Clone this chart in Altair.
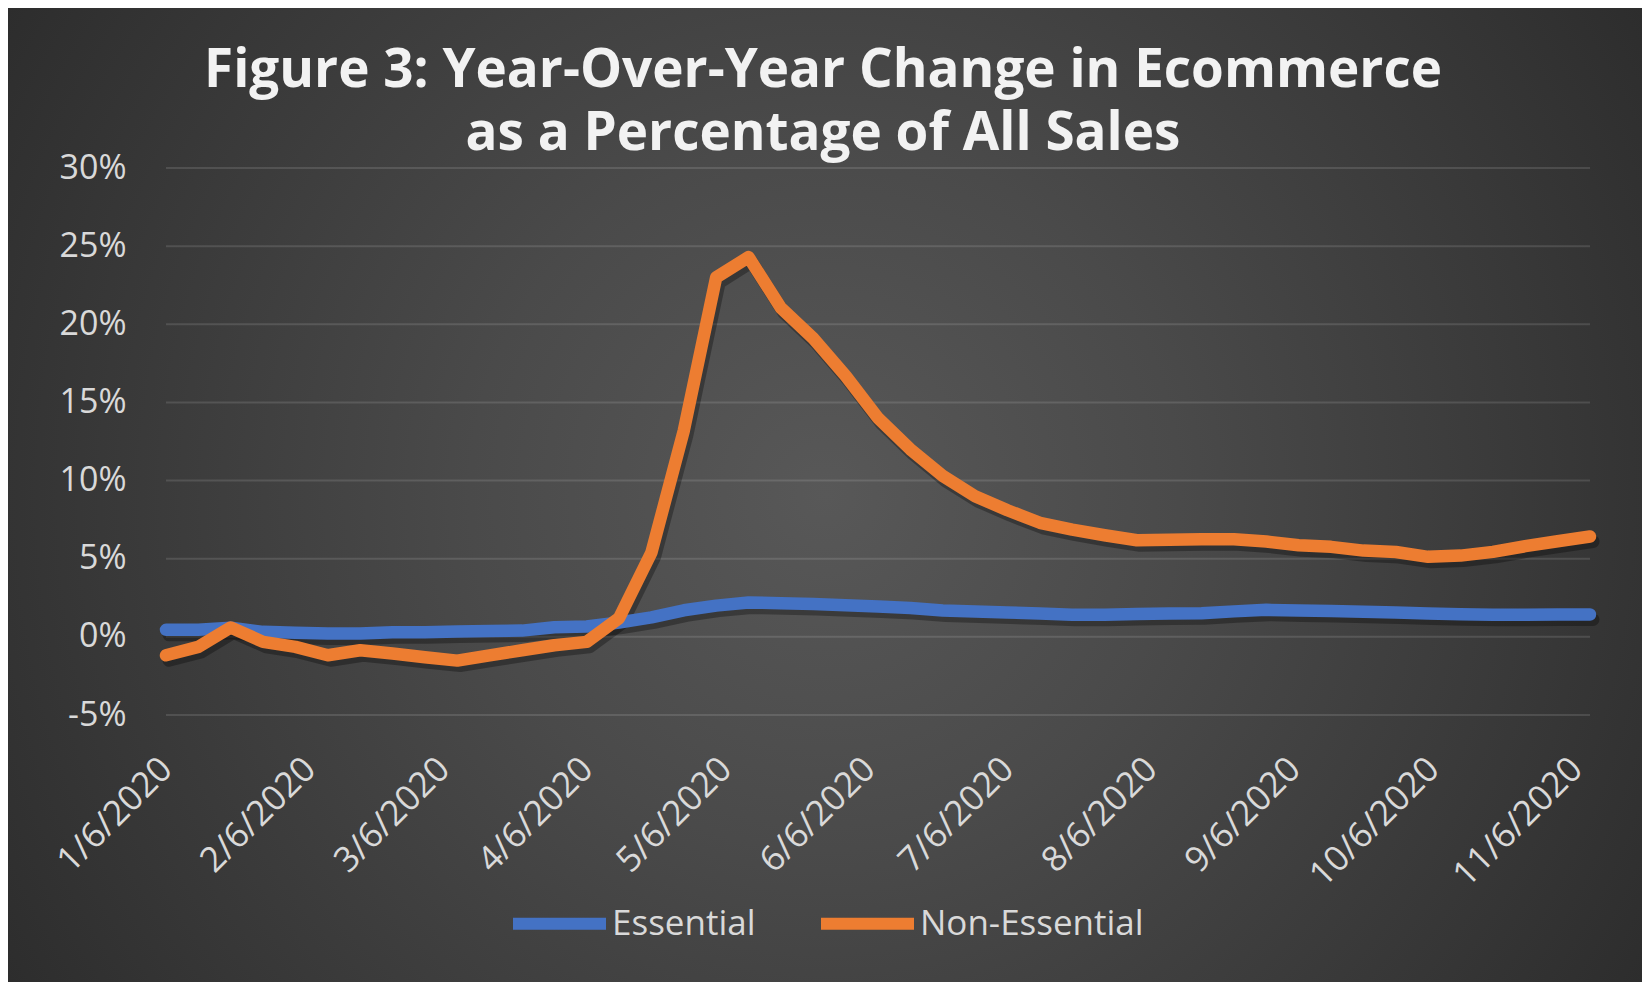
import altair as alt
import pandas as pd

# ---------------- data ----------------
dates = [
    "2020-01-06", "2020-01-13", "2020-01-20", "2020-01-27", "2020-02-03",
    "2020-02-10", "2020-02-17", "2020-02-24", "2020-03-02", "2020-03-09",
    "2020-03-16", "2020-03-23", "2020-03-30", "2020-04-06", "2020-04-13",
    "2020-04-20", "2020-04-27", "2020-05-04", "2020-05-11", "2020-05-18",
    "2020-05-25", "2020-06-01", "2020-06-08", "2020-06-15", "2020-06-22",
    "2020-06-29", "2020-07-06", "2020-07-13", "2020-07-20", "2020-07-27",
    "2020-08-03", "2020-08-10", "2020-08-17", "2020-08-24", "2020-08-31",
    "2020-09-07", "2020-09-14", "2020-09-21", "2020-09-28", "2020-10-05",
    "2020-10-12", "2020-10-19", "2020-10-26", "2020-11-02", "2020-11-09",
]

essential = [
    0.45, 0.45, 0.58, 0.32, 0.26, 0.21, 0.21, 0.30, 0.30, 0.34,
    0.38, 0.40, 0.62, 0.66, 0.92, 1.25, 1.70, 2.00, 2.20, 2.15,
    2.10, 2.03, 1.95, 1.85, 1.69, 1.62, 1.56, 1.50, 1.42, 1.42,
    1.46, 1.49, 1.51, 1.63, 1.73, 1.69, 1.65, 1.60, 1.56, 1.50,
    1.45, 1.41, 1.42, 1.43, 1.43,
]

non_essential = [
    -1.18, -0.64, 0.60, -0.32, -0.64, -1.18, -0.86, -1.07, -1.30, -1.52,
    -1.18, -0.86, -0.54, -0.32, 1.20, 5.40, 13.2, 23.0, 24.3, 21.05,
    19.1, 16.7, 14.0, 12.0, 10.3, 9.0, 8.1, 7.3, 6.86, 6.5,
    6.18, 6.22, 6.25, 6.25, 6.10, 5.86, 5.76, 5.52, 5.43, 5.12,
    5.20, 5.44, 5.80, 6.12, 6.42,
]

series_names = ["Essential", "Non-Essential"]
series_colors = ["#4472C4", "#ED7D31"]

y_ticks = [-5, 0, 5, 10, 15, 20, 25, 30]
x_tick_dates = [
    "2020-01-06", "2020-02-06", "2020-03-06", "2020-04-06", "2020-05-06",
    "2020-06-06", "2020-07-06", "2020-08-06", "2020-09-06", "2020-10-06",
    "2020-11-06",
]

title_lines = [
    "Figure 3: Year-Over-Year Change in Ecommerce",
    "as a Percentage of All Sales",
]

# ---------------- layout ----------------
W, H = 1424, 547
PAD_L, PAD_T, PAD_R, PAD_B = 158, 160, 52, 267

FONT = "Open Sans"
LABEL_COLOR = "#d9d9d9"


def ms(s):
    return int(pd.Timestamp(s, tz="UTC").value // 10**6)


df = pd.DataFrame({
    "date": dates + dates,
    "value": essential + non_essential,
    "series": [series_names[0]] * len(dates) + [series_names[1]] * len(dates),
})

x_scale = alt.Scale(type="utc", domain=[ms(dates[0]), ms(dates[-1])], nice=False)
y_scale = alt.Scale(domain=[y_ticks[0], y_ticks[-1]], nice=False, zero=False)

x_axis = alt.Axis(
    values=[ms(d) for d in x_tick_dates],
    labelExpr="utcFormat(datum.value, '%-m/%-d/%Y')",
    labelAngle=315,
    labelAlign="right",
    labelBaseline="middle",
    labelPadding=48,
    labelFont=FONT,
    labelFontSize=35,
    labelColor=LABEL_COLOR,
    labelOverlap=False,
    labelFlush=False,
    labelLimit=400,
    grid=False,
    ticks=False,
    tickSize=0,
    domain=False,
    title=None,
    zindex=1,
)

y_axis = alt.Axis(
    values=y_ticks,
    labelExpr="datum.value + '%'",
    labelFont=FONT,
    labelFontSize=34,
    labelColor=LABEL_COLOR,
    labelPadding=40,
    grid=False,
    ticks=False,
    tickSize=0,
    domain=False,
    title=None,
    zindex=1,
)

X = alt.X("date:T", scale=x_scale, axis=x_axis)
Y = alt.Y("value:Q", scale=y_scale, axis=y_axis)

background = alt.Chart(alt.Data(values=[{"k": 0}])).mark_rect(
    fill=alt.RadialGradient(
        gradient="radial",
        stops=[
            alt.GradientStop(color="#585858", offset=0),
            alt.GradientStop(color="#4a4a4a", offset=0.35),
            alt.GradientStop(color="#2a2a2a", offset=1),
        ],
        x1=0.5, y1=0.5, r1=0, x2=0.5, y2=0.5, r2=0.62,
    )
).encode(
    x=alt.value(-PAD_L),
    x2=alt.value(W + PAD_R),
    y=alt.value(-PAD_T),
    y2=alt.value(H + PAD_B),
)

grid = alt.Chart(pd.DataFrame({"value": y_ticks})).mark_rule(
    color="#ffffff", opacity=0.12, strokeWidth=2
).encode(y=Y)

shadow = alt.Chart(df).mark_line(
    color="#000000", opacity=0.3, strokeWidth=13, xOffset=3, yOffset=5,
    strokeJoin="round", strokeCap="round",
).encode(x=X, y=Y, detail="series:N")

lines = alt.Chart(df).mark_line(
    strokeWidth=12.5, strokeJoin="round", strokeCap="round"
).encode(
    x=X,
    y=Y,
    color=alt.Color(
        "series:N",
        scale=alt.Scale(domain=series_names, range=series_colors),
        legend=alt.Legend(
            title=None,
            orient="none",
            legendX=341,
            legendY=703,
            direction="horizontal",
            symbolType="M-1,0L1,0",
            symbolSize=93 * 93,
            symbolStrokeWidth=12,
            labelFont=FONT,
            labelFontSize=35,
            labelColor=LABEL_COLOR,
            labelOffset=0,
            labelLimit=400,
            columnPadding=41,
            padding=0,
        ),
    ),
)

chart = alt.layer(background, grid, shadow, lines).properties(
    width=W,
    height=H,
    padding={"left": PAD_L, "top": PAD_T, "right": PAD_R, "bottom": PAD_B},
    autosize=alt.AutoSizeParams(type="none"),
    background="#333333",
    title=alt.TitleParams(
        text=title_lines,
        font=FONT,
        fontSize=53,
        fontWeight="bold",
        color="#f2f2f2",
        anchor="middle",
        frame="group",
        dx=-55,
        dy=153,
        offset=0,
        lineHeight=63,
    ),
).configure_view(stroke=None)

chart.save("out.html", embed_options={"renderer": "svg", "actions": False})
